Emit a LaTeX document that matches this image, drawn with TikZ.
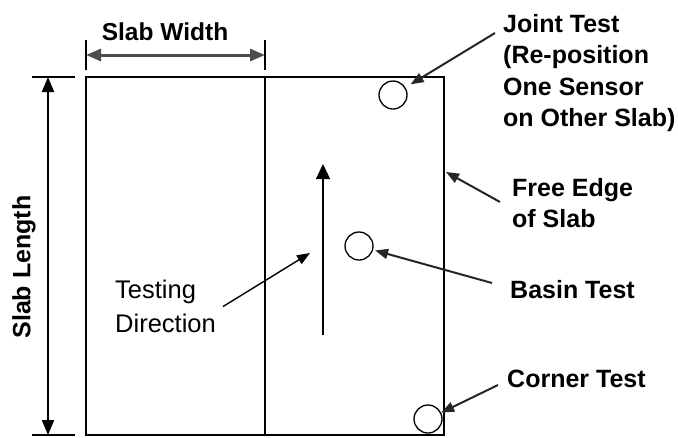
\documentclass[tikz,border=0pt]{standalone}
\usepackage{fontspec}
\setmainfont{Liberation Sans}
\usetikzlibrary{arrows.meta,positioning}
\tikzset{
  lead/.style={-{Triangle[length=13pt,width=10pt]},line width=2pt,black!85},
  dim/.style={{Triangle[length=15pt,width=12pt]}-{Triangle[length=15pt,width=12pt]},line width=2pt},
  sensor/.style={circle,draw,line width=1.3pt,minimum size=28pt,inner sep=0pt},
  lbl/.style={font=\fontsize{25}{31.5}\selectfont\bfseries,align=left,inner sep=0pt,anchor=north west}
}

\begin{document}
\begin{tikzpicture}[x=1pt,y=-1pt]
\useasboundingbox (0,0) rectangle (678,437);
\coordinate (tl) at (86,77);
\coordinate (br) at (444,435);
\coordinate (mt) at (265,77);
\coordinate (mb) at (265,435);
\draw[line width=1.8pt] (tl) rectangle (br);
\draw[line width=1.4pt] (mt) -- (mb);
\coordinate (wl) at (86,55);
\coordinate (wr) at (265,55);
\draw[line width=2.5pt] ([yshift=15pt]wl) -- ([yshift=-15pt]wl) ([yshift=15pt]wr) -- ([yshift=-15pt]wr);
\draw[dim,line width=3pt,black!70] (wl) -- (wr);
\node[lbl,anchor=base,font=\fontsize{24.5}{30}\selectfont\bfseries] (wtxt) at (165,40) {Slab Width};
\coordinate (lt) at (48,77);
\coordinate (lb) at (48,435);
\draw[line width=2.5pt] ([xshift=-16pt]lt) -- ([xshift=27pt]lt) ([xshift=-16pt]lb) -- ([xshift=27pt]lb);
\draw[dim] (lt) -- (lb);
\node[lbl,anchor=center,rotate=90] (ltxt) at (24,267) {Slab Length};
\node[sensor] (joint) at (393,95) {};
\node[sensor] (basin) at (359,246) {};
\node[sensor] (corner) at (428,419) {};
\coordinate (dbot) at (323,335);
\coordinate (dtop) at (323,164);
\draw[-{Triangle[length=15pt,width=14pt]},line width=1.4pt] (dbot) -- (dtop);
\node[font=\fontsize{25.5}{34}\selectfont,align=left,inner sep=0pt,anchor=north west] (dtxt) at (115,280) {Testing\\Direction};
\coordinate (dhead) at (310,253);
\draw[lead,line width=1.4pt,black] ([xshift=7pt]dtxt.east) -- (dhead);
\node[lbl] (jtxt) at (503,14) {Joint Test\\(Re-position\\One Sensor\\on Other Slab)};
\node[lbl] (etxt) at (512,178) {Free Edge\\of Slab};
\node[lbl,anchor=base west] (btxt) at (510,298) {Basin Test};
\node[lbl,anchor=base west] (ctxt) at (507,387) {Corner Test};
\coordinate (jtail) at (495,33);
\coordinate (etail) at (500,202);
\coordinate (edge) at (446,172);
\coordinate (btail) at (492,283);
\coordinate (ctail) at (498,385);
\draw[lead,shorten >=6pt] (jtail) -- (joint);
\draw[lead] (etail) -- (edge);
\draw[lead,shorten >=2pt] (btail) -- (basin);
\draw[lead] (ctail) -- (corner);
\end{tikzpicture}
\end{document}
